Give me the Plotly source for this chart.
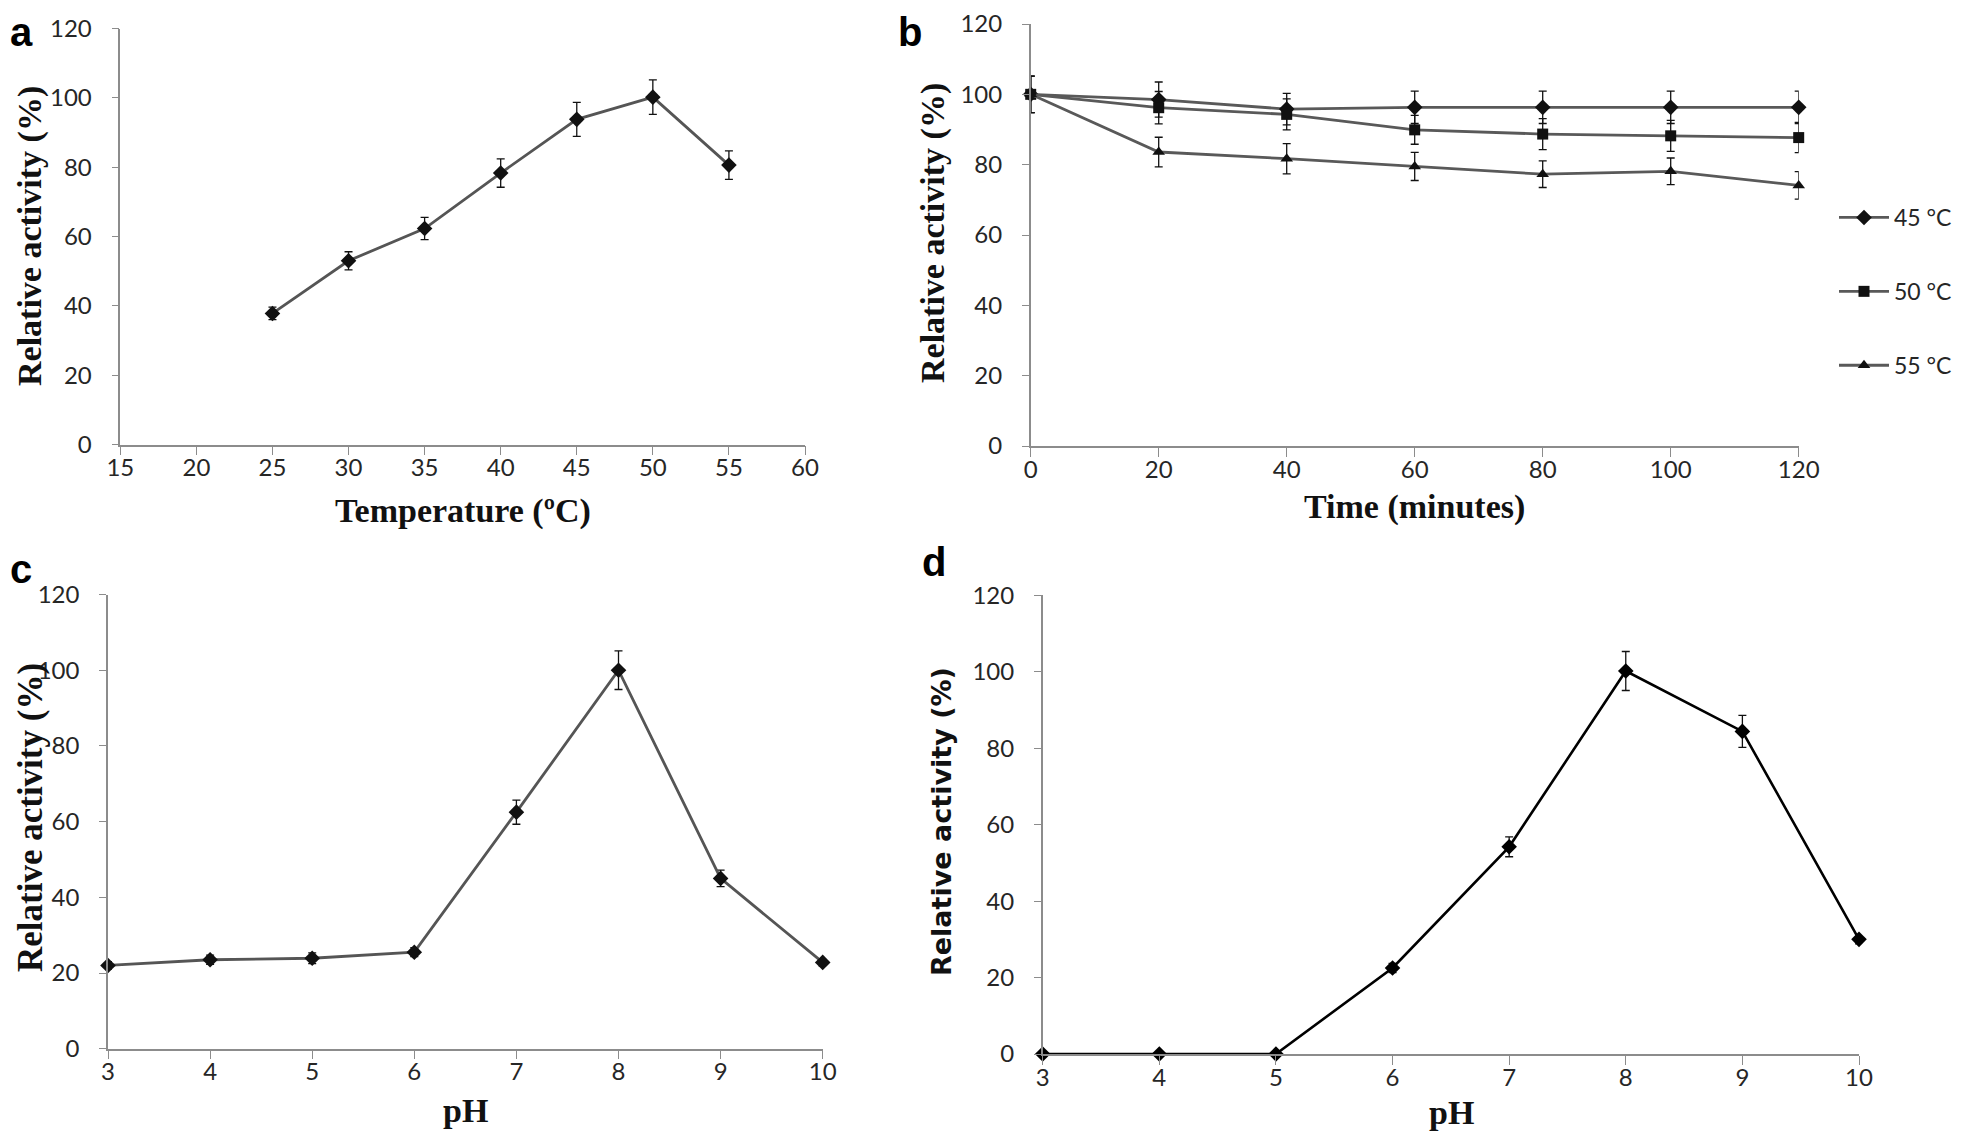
import plotly.graph_objects as go

W, H = 1961, 1140

# ---------------- data ----------------
temp_x = [25, 30, 35, 40, 45, 50, 55]
temp_y = [37.8, 53.0, 62.3, 78.3, 93.8, 100.2, 80.6]
temp_err = [1.8, 2.6, 3.2, 4.1, 4.9, 5.0, 4.1]

time_x = [0, 20, 40, 60, 80, 100, 120]
t45_y = [100, 98.5, 95.8, 96.3, 96.3, 96.3, 96.3]
t45_err = [5.2, 5.0, 4.5, 4.6, 4.6, 4.6, 4.6]
t50_y = [100, 96.2, 94.3, 89.9, 88.7, 88.2, 87.7]
t50_err = [5.2, 4.6, 4.4, 4.1, 4.4, 4.4, 4.3]
t55_y = [100, 83.6, 81.7, 79.5, 77.3, 78.1, 74.1]
t55_err = [5.2, 4.2, 4.3, 4.0, 3.8, 3.8, 3.9]
time_names = ["45 °C", "50 °C", "55 °C"]

ph_x = [3, 4, 5, 6, 7, 8, 9, 10]
phc_y = [22.0, 23.5, 23.9, 25.5, 62.5, 100.0, 45.0, 22.8]
phc_err = [1.0, 1.2, 1.4, 1.2, 3.2, 5.1, 2.2, 1.0]
phd_y = [0, 0, 0, 22.5, 54.2, 100.2, 84.4, 30.0]
phd_err = [0, 0, 0, 1.2, 2.6, 5.1, 4.2, 1.2]

temp_ticks = [15, 20, 25, 30, 35, 40, 45, 50, 55, 60]
time_ticks = [0, 20, 40, 60, 80, 100, 120]
ph_ticks = [3, 4, 5, 6, 7, 8, 9, 10]
y_ticks = [0, 20, 40, 60, 80, 100, 120]

# ---------------- layout helpers ----------------
def xd(a, b):
    return [a / W, b / W]

def yd(top, bottom):
    return [1 - bottom / H, 1 - top / H]

def px(x):
    return x / W

def py(y):
    return 1 - y / H

TICKFONT = dict(family="Lato, Open Sans, sans-serif", size=24, color="#262626")
SERIF = "Liberation Serif, Times New Roman, serif"
AXCOL = "#8c8c8c"

fig = go.Figure()

err_style = dict(type="data", thickness=1.3, width=4, color="#111111", visible=True)

# panel a
fig.add_trace(go.Scatter(x=temp_x, y=temp_y, mode="lines+markers", xaxis="x", yaxis="y",
                         line=dict(color="#555555", width=2.8), cliponaxis=False,
                         marker=dict(symbol="diamond", color="#111111", size=12),
                         error_y=dict(array=temp_err, **err_style), showlegend=False))

# panel b
for ys, es, sym, nm in [(t45_y, t45_err, "diamond", time_names[0]),
                        (t50_y, t50_err, "square", time_names[1]),
                        (t55_y, t55_err, "triangle-up", time_names[2])]:
    fig.add_trace(go.Scatter(x=time_x, y=ys, mode="lines+markers", xaxis="x2", yaxis="y2",
                             name=nm, legendgroup=nm, cliponaxis=False,
                             line=dict(color="#595959", width=2.8),
                             marker=dict(symbol=sym, color="#111111", size=12 if sym == "diamond" else 11),
                             error_y=dict(array=es, **err_style), showlegend=True))

# panel c
fig.add_trace(go.Scatter(x=ph_x, y=phc_y, mode="lines+markers", xaxis="x3", yaxis="y3",
                         line=dict(color="#555555", width=2.8), cliponaxis=False,
                         marker=dict(symbol="diamond", color="#111111", size=12),
                         error_y=dict(array=phc_err, **err_style), showlegend=False))

# panel d
fig.add_trace(go.Scatter(x=ph_x, y=phd_y, mode="lines+markers", xaxis="x4", yaxis="y4",
                         line=dict(color="#000000", width=2.6), cliponaxis=False,
                         marker=dict(symbol="diamond", color="#000000", size=12),
                         error_y=dict(array=phd_err, **err_style), showlegend=False))

def xax(dom, rng, ticks, anchor):
    return dict(domain=dom, range=rng, tickvals=ticks, ticks="outside", ticklen=9, tickwidth=1.3,
                tickcolor=AXCOL, showline=True, linecolor=AXCOL, linewidth=1.5, showgrid=False,
                zeroline=False, tickfont=TICKFONT, anchor=anchor, automargin=False,
                ticklabelstandoff=-8, ticklabeloverflow="allow")

def yax(dom, anchor):
    return dict(domain=dom, range=[0, 120], tickvals=y_ticks, ticks="outside", ticklen=7, tickwidth=1.3,
                tickcolor=AXCOL, showline=True, linecolor=AXCOL, linewidth=1.5, showgrid=False,
                zeroline=False, tickfont=TICKFONT, anchor=anchor, automargin=False,
                ticklabelstandoff=15, ticklabeloverflow="allow")

fig.update_layout(
    width=W, height=H,
    margin=dict(l=0, r=0, t=0, b=0),
    paper_bgcolor="white", plot_bgcolor="white",
    xaxis=xax(xd(112.3, 797), [15, 60], temp_ticks, "y"),
    yaxis=yax(yd(20.5, 436.5), "x"),
    xaxis2=xax(xd(1022.7, 1790.7), [0, 120], time_ticks, "y2"),
    yaxis2=yax(yd(16, 438), "x2"),
    xaxis3=xax(xd(100, 814.7), [3, 10], ph_ticks, "y3"),
    yaxis3=yax(yd(586.5, 1040.7), "x3"),
    xaxis4=xax(xd(1034.7, 1851), [3, 10], ph_ticks, "y4"),
    yaxis4=yax(yd(587.3, 1046), "x4"),
    legend=dict(x=px(1826), y=py(188), xanchor="left", yanchor="top",
                font=dict(family="Lato, Open Sans, sans-serif", size=23, color="#262626"),
                itemwidth=50, tracegroupgap=41, bgcolor="rgba(0,0,0,0)"),
)

# axis titles
titles = [
    ("Temperature (ºC)", 455, 503, 0, dict(family=SERIF, size=34, color="#111111")),
    ("Time (minutes)", 1406.7, 499, 0, dict(family=SERIF, size=34, color="#111111")),
    ("pH", 457, 1102, 0, dict(family=SERIF, size=34, color="#111111")),
    ("pH", 1443, 1104, 0, dict(family=SERIF, size=34, color="#111111")),
    ("Relative activity (%)", 22, 228, -90, dict(family=SERIF, size=34, color="#111111")),
    ("Relative activity (%)", 925, 225, -90, dict(family=SERIF, size=34, color="#111111")),
    ("Relative activity (%)", 22, 810, -90, dict(family=SERIF, size=35, color="#111111")),
    ("Relative activity (%)", 933, 814, -90, dict(family="DejaVu Sans, Verdana, sans-serif", size=27, color="#111111")),
]
for txt, x0, y0, ang, f in titles:
    fig.add_annotation(text="<b>" + txt + "</b>", x=px(x0), y=py(y0), xref="paper", yref="paper",
                       xanchor="center", yanchor="middle", textangle=ang, showarrow=False, font=f)

letter_font = dict(family="Liberation Sans, Arial, sans-serif", size=40, color="#000000")
for txt, lx, ly in [("a", 0, 0), ("b", 888, 0), ("c", 0, 537), ("d", 912, 530)]:
    fig.add_annotation(text="<b>" + txt + "</b>", x=px(lx), y=py(ly), xref="paper", yref="paper",
                       xanchor="left", yanchor="top", showarrow=False, font=letter_font)

fig.write_html("out.html")
